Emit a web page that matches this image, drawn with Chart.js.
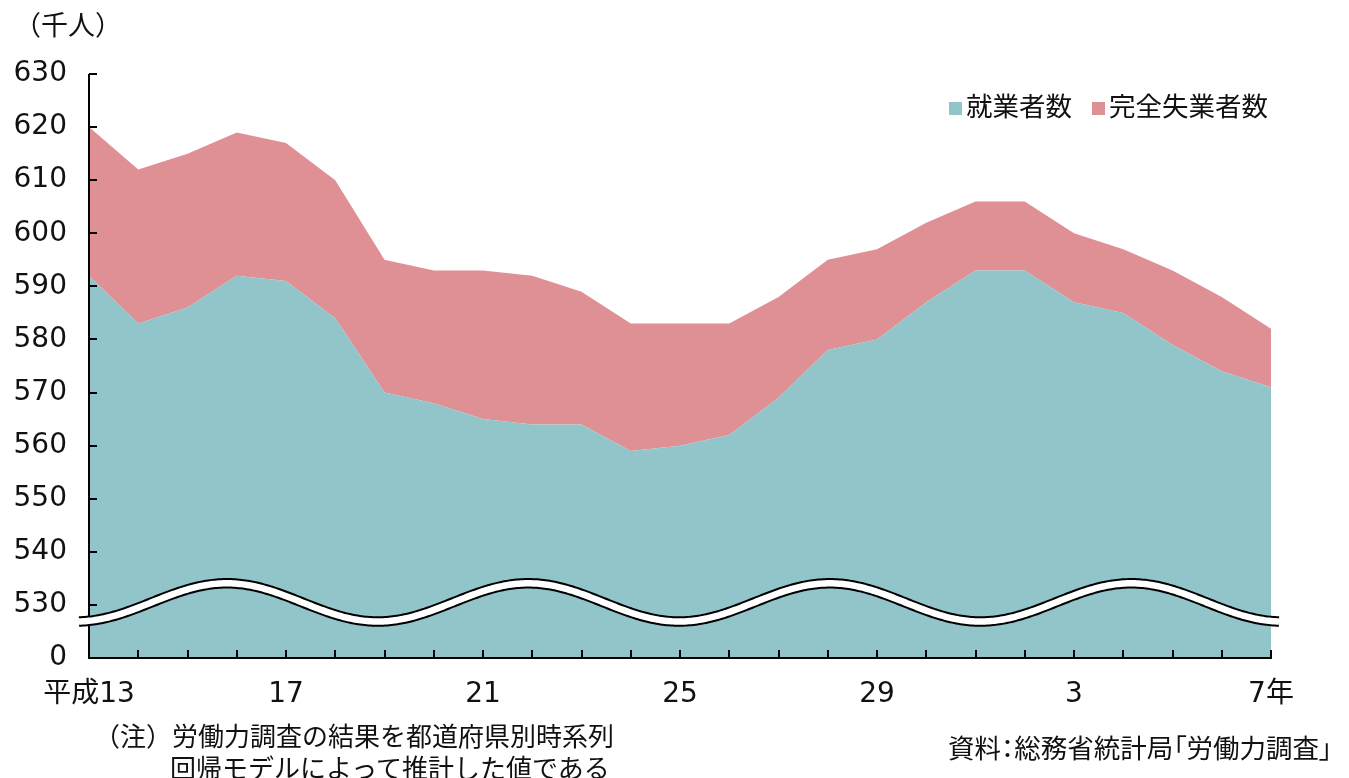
<!DOCTYPE html>
<html lang="ja">
<head>
<meta charset="utf-8">
<script src="https://cdn.jsdelivr.net/npm/chart.js@4"></script>
<style>
  body { margin: 0; background: #fff; }
  #wrap { position: relative; width: 1349px; height: 778px; }
  .txt { position: absolute; font-family: "Noto Sans CJK JP", sans-serif; font-size: 26px; color: #111; white-space: nowrap; line-height: 32px; }
  .legend span.box { display: inline-block; width: 13px; height: 13px; margin-right: 4px; vertical-align: 1px; }
  .legend span.item { margin-right: 20px; }
  .palt { font-feature-settings: "palt"; }
</style>
</head>
<body>
<div id="wrap">
  <canvas id="myChart" width="1349" height="778"></canvas>
  <div class="txt" style="left:14px; top:8px; font-size:27px;">（千人）</div>
  <div class="txt legend" id="legend" style="left:949px; top:89px; font-size:26.5px;"></div>
  <div class="txt" style="left:94px; top:719px;">（注）労働力調査の結果を都道府県別時系列</div>
  <div class="txt" style="left:170px; top:751px;">回帰モデルによって推計した値である</div>
  <div class="txt palt" style="left:948px; top:731px; font-size:26.5px;">資料：総務省統計局「労働力調査」</div>
</div>
<script>
// 年（平成13年～令和7年）
const years = ['平成13', '14', '15', '16', '17', '18', '19', '20', '21', '22', '23', '24',
  '25', '26', '27', '28', '29', '30', '令和元', '2', '3', '4', '5', '6', '7'];
// x軸に表示するラベル
const tickLabels = ['平成13', '', '', '', '17', '', '', '', '21', '', '', '', '25',
  '', '', '', '29', '', '', '', '3', '', '', '', '7年'];
// 就業者数（千人）
const employed = [592, 583, 586, 592, 591, 584, 570, 568, 565, 564, 564, 559,
  560, 562, 569, 578, 580, 587, 593, 593, 587, 585, 579, 574, 571];
// 完全失業者数（千人）
const unemployed = [28, 29, 29, 27, 26, 26, 25, 25, 28, 28, 25, 24,
  23, 21, 19, 17, 17, 15, 13, 13, 13, 12, 14, 14, 11];

const seriesNames = ['就業者数', '完全失業者数'];
const colors = ['#91c5c9', '#df9094'];

// 凡例（HTML）
document.getElementById('legend').innerHTML = seriesNames.map((n, i) =>
  '<span class="item"><span class="box" style="background:' + colors[i] + '"></span>' + n + '</span>').join('');

// 軸線・内向きの目盛り・省略記号（波線）
const breakAxis = {
  id: 'breakAxis',
  afterDatasetsDraw(chart) {
    const { ctx, chartArea: a, scales: { x, y } } = chart;
    ctx.save();
    ctx.strokeStyle = '#000';
    ctx.lineWidth = 2;
    ctx.beginPath();
    ctx.moveTo(a.left, a.top);
    ctx.lineTo(a.left, a.bottom);
    ctx.lineTo(a.right + 1, a.bottom);
    y.ticks.forEach((t, i) => {
      const py = Math.round(y.getPixelForTick(i));
      ctx.moveTo(a.left, py);
      ctx.lineTo(a.left + 8, py);
    });
    x.ticks.forEach((t, i) => {
      const px = Math.round(x.getPixelForTick(i));
      ctx.moveTo(px, a.bottom);
      ctx.lineTo(px, a.bottom - 8);
    });
    ctx.stroke();

    // 波線（省略記号）
    const step = (a.right - a.left) / (years.length - 1);
    ctx.beginPath();
    let first = true;
    for (let px = a.left - 10; px <= a.right + 8; px += 2) {
      const t = (px - a.left) / step;
      const py = y.getPixelForValue(530.47 + 3.6 * Math.cos(2 * Math.PI * (t - 2.8) / 6.12));
      if (first) { ctx.moveTo(px, py); first = false; } else ctx.lineTo(px, py);
    }
    ctx.lineCap = 'butt';
    ctx.lineJoin = 'round';
    ctx.strokeStyle = '#000';
    ctx.lineWidth = 10.5;
    ctx.stroke();
    ctx.strokeStyle = '#fff';
    ctx.lineWidth = 6.5;
    ctx.stroke();
    ctx.restore();
  }
};

const tickFont = { family: '"DejaVu Sans", "Noto Sans CJK JP", sans-serif', size: 28 };

const ctx = document.getElementById('myChart').getContext('2d');
const myChart = new Chart(ctx, {
  type: 'line',
  data: {
    labels: years,
    datasets: [{
      label: seriesNames[0],
      data: employed,
      backgroundColor: colors[0],
      borderWidth: 0,
      pointRadius: 0,
      fill: 'start'
    }, {
      label: seriesNames[1],
      data: unemployed,
      backgroundColor: colors[1],
      borderWidth: 0,
      pointRadius: 0,
      fill: '-1'
    }]
  },
  options: {
    responsive: false,
    animation: false,
    devicePixelRatio: 1,
    layout: { padding: { top: 74, right: 78, left: 0, bottom: 0 } },
    scales: {
      x: {
        offset: false,
        grid: { display: false, drawTicks: false },
        border: { display: false },
        ticks: {
          autoSkip: false,
          maxRotation: 0,
          padding: 20,
          color: '#111',
          font: tickFont,
          callback: (v, i) => tickLabels[i]
        },
        afterFit: (scale) => { scale.height = 120; }
      },
      y: {
        stacked: true,
        min: 520,
        max: 630,
        grid: { display: false, drawTicks: false },
        border: { display: false },
        ticks: {
          stepSize: 10,
          padding: 22,
          color: '#111',
          font: tickFont,
          callback: (v) => v === 520 ? '0' : v
        },
        afterFit: (scale) => { scale.width = 89; }
      }
    },
    plugins: {
      legend: { display: false },
      tooltip: { enabled: false }
    }
  },
  plugins: [breakAxis]
});
</script>
</body>
</html>
